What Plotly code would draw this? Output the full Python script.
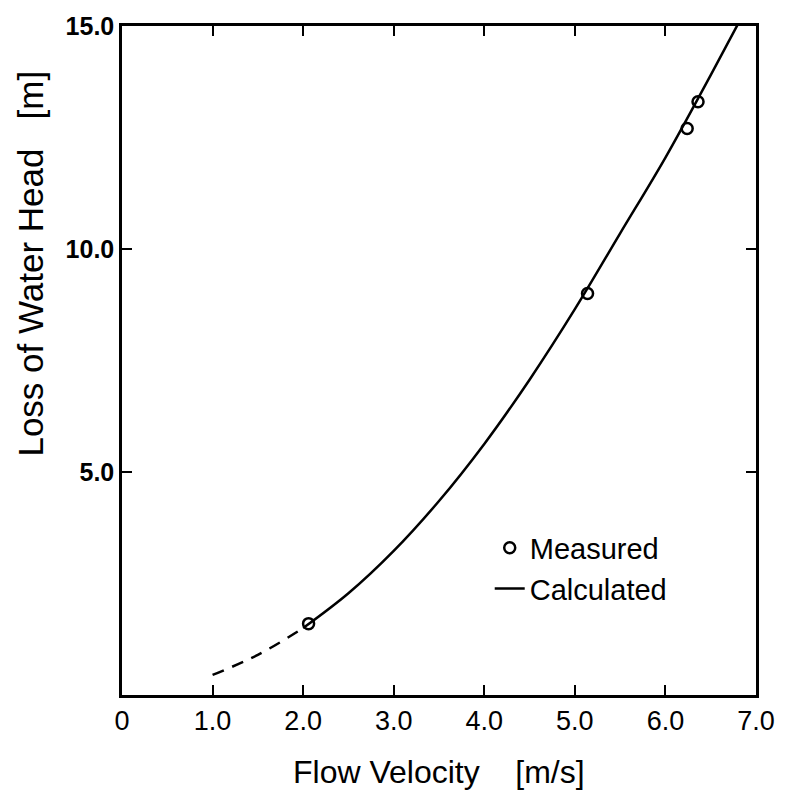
import plotly.graph_objects as go

# Measured loss of head against flow velocity
velocity_measured = [2.06, 5.14, 6.24, 6.36]
head_measured = [1.6, 9.0, 12.7, 13.3]

# Calculated curve: dashed (extrapolated) part and solid part
velocity_calc_low = [1.0, 1.5, 2.0]
head_calc_low = [0.45, 0.9, 1.5]
velocity_calc = [2.0, 2.5, 3.0, 3.5, 4.0, 4.5, 5.0, 5.5, 6.0, 6.5, 7.0]
head_calc = [1.5, 2.28, 3.23, 4.35, 5.63, 7.07, 8.65, 10.35, 12.05, 13.9, 15.8]

x_ticks = [0, 1, 2, 3, 4, 5, 6, 7]
x_tick_labels = ["0", "1.0", "2.0", "3.0", "4.0", "5.0", "6.0", "7.0"]
y_ticks = [5, 10, 15]
y_tick_labels = ["5.0", "10.0", "15.0"]

fig = go.Figure()

fig.add_trace(go.Scatter(
    x=velocity_calc_low, y=head_calc_low, mode="lines",
    line=dict(color="black", width=2.5, dash="12px,9px", shape="spline"),
    showlegend=False, hoverinfo="skip",
))
fig.add_trace(go.Scatter(
    x=velocity_calc, y=head_calc, mode="lines", name="Calculated",
    line=dict(color="black", width=2.5, shape="spline"),
))
fig.add_trace(go.Scatter(
    x=velocity_measured, y=head_measured, mode="markers", name="Measured",
    marker=dict(symbol="circle-open", size=11, color="black", line=dict(width=2.5)),
))

font_family = "Liberation Sans, Arial, sans-serif"

fig.update_layout(
    width=787, height=793,
    margin=dict(l=122, r=24, t=16, b=98),
    paper_bgcolor="white", plot_bgcolor="white",
    font=dict(family=font_family, color="black"),
    legend=dict(
        x=0.58, y=0.258, xanchor="left", yanchor="top",
        traceorder="reversed", itemwidth=30,
        font=dict(size=29, family=font_family, color="black"),
        bgcolor="rgba(0,0,0,0)", tracegroupgap=0,
    ),
    xaxis=dict(
        range=[0, 7], tickvals=x_ticks, ticktext=x_tick_labels,
        showgrid=False, zeroline=False,
        showline=True, linecolor="black", linewidth=2.5, mirror="ticks",
        ticks="inside", ticklen=10, tickwidth=2, tickcolor="black",
        tickfont=dict(size=27, family=font_family, color="black"),
    ),
    yaxis=dict(
        range=[0, 15], tickvals=y_ticks, ticktext=y_tick_labels,
        showgrid=False, zeroline=False,
        showline=True, linecolor="black", linewidth=2.5, mirror="ticks",
        ticks="inside", ticklen=10, tickwidth=2, tickcolor="black",
        tickfont=dict(size=25, family=font_family, color="black", weight="bold"),
    ),
    annotations=[
        dict(text="Flow Velocity    [m/s]", xref="paper", yref="paper",
             x=0.5, y=-0.115, xanchor="center", yanchor="middle",
             showarrow=False, font=dict(size=32, family=font_family, color="black")),
        dict(text="Loss of Water Head   [m]", xref="paper", yref="paper",
             x=-0.145, y=0.645, xanchor="center", yanchor="middle", textangle=-90,
             showarrow=False, font=dict(size=35, family=font_family, color="black")),
    ],
)

fig.write_html("out.html")
